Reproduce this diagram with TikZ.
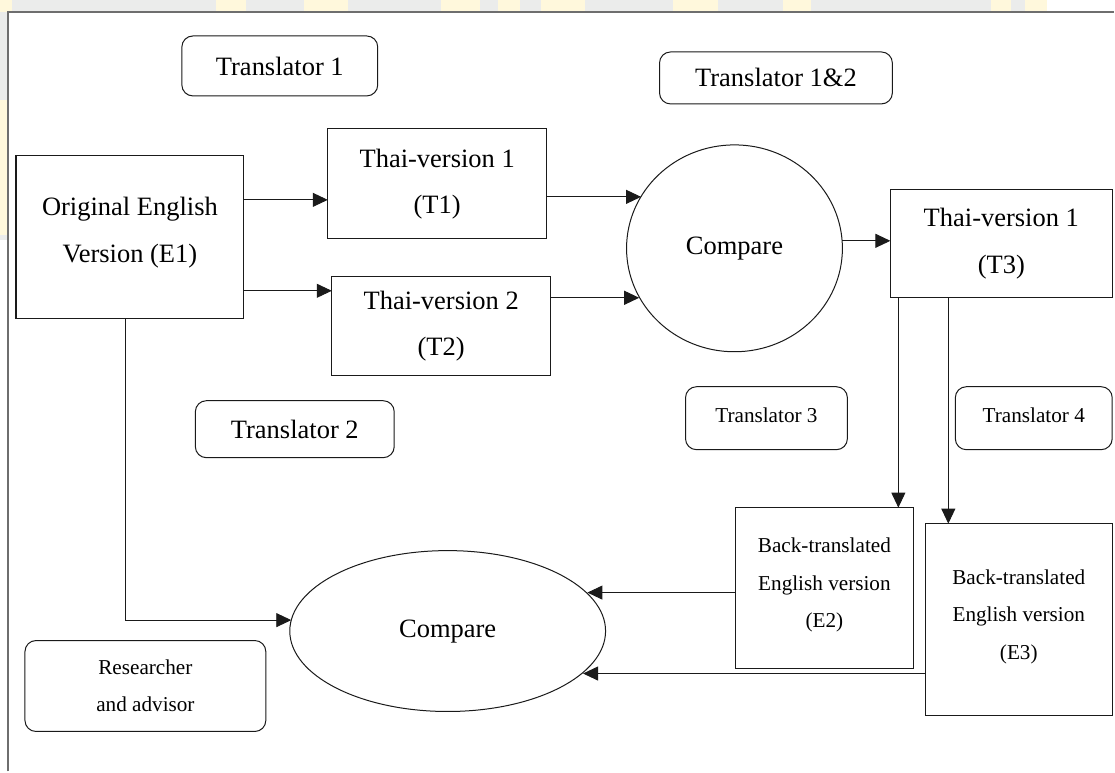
\documentclass[tikz,border=0pt]{standalone}
\usepackage{fontspec}
\setmainfont{Liberation Serif}
\usetikzlibrary{arrows.meta,shapes.geometric}
\definecolor{bandgray}{HTML}{EBECEB}
\definecolor{wmyellow}{HTML}{FFF8DC}
\definecolor{framegray}{HTML}{6E6E6E}
\definecolor{ink}{HTML}{1A1A1A}
\begin{document}
\begin{tikzpicture}[x=1pt,y=-1pt,
  bigtext/.style={font=\fontsize{26.5}{46.5}\selectfont},
  smalltext/.style={font=\fontsize{21.2}{37.5}\selectfont},
  sqbox/.style={draw=ink,line width=1.1pt,rectangle,inner sep=0pt,outer sep=0pt,align=center},
  rbox/.style={draw=ink,line width=1pt,rectangle,rounded corners=11pt,inner sep=0pt,outer sep=0pt,align=center},
  ebox/.style={draw=ink,line width=1pt,ellipse,inner sep=0pt,outer sep=0pt,align=center},
  arr/.style={draw=ink,line width=0.9pt,-{Triangle[length=15pt,width=14pt]}}]
% background band and frame
\fill[bandgray] (0,0) rectangle (1115,772);
\fill[white] (1048,0) rectangle (1115,12);
\fill[white] (0,240) rectangle (8,772);
\foreach \a/\b in {0/12,216/246,304/348,441/480,498/520,541/585,673/719,784/812,992/1012,1026/1048}
  \fill[wmyellow] (\a,0) rectangle (\b,12);
\fill[wmyellow] (0,100) rectangle (8,235);
\fill[white] (8,12) rectangle (1115,772);
\draw[framegray,line width=1.6pt] (8,772) -- (8,12) -- (1115,12);
\useasboundingbox (0,0) rectangle (1115,772);
% nodes
\node[rbox,bigtext,minimum width=196pt,minimum height=60pt] (tr1) at (280,66) {Translator 1};
\node[rbox,bigtext,minimum width=233pt,minimum height=52pt] (tr12) at (776.5,78) {Translator 1\&2};
\node[sqbox,bigtext,text depth=15pt,minimum width=228pt,minimum height=163pt] (e1) at (130,237.5) {Original English\\Version (E1)};
\node[sqbox,bigtext,minimum width=219pt,minimum height=110pt] (t1) at (437.5,184) {Thai-version 1\\(T1)};
\node[sqbox,bigtext,minimum width=219pt,minimum height=99pt] (t2) at (441.5,326.5) {Thai-version 2\\(T2)};
\node[ebox,bigtext,minimum width=216pt,minimum height=207pt] (cmp1) at (735,248.5) {Compare};
\node[sqbox,bigtext,minimum width=222pt,minimum height=108pt] (t3) at (1002,244) {Thai-version 1\\(T3)};
\node[rbox,bigtext,minimum width=199pt,minimum height=57pt] (tr2) at (295,429.5) {Translator 2};
\node[rbox,smalltext,text depth=7pt,minimum width=162pt,minimum height=63pt] (tr3) at (767,418.5) {Translator 3};
\node[rbox,smalltext,text depth=7pt,minimum width=157pt,minimum height=63pt] (tr4) at (1034.5,418.5) {Translator 4};
\node[sqbox,smalltext,text depth=10.6pt,minimum width=178pt,minimum height=161pt] (e2) at (825,588.5) {Back-translated\\English version\\(E2)};
\node[sqbox,smalltext,text depth=10.6pt,minimum width=187pt,minimum height=192pt] (e3) at (1019.5,620) {Back-translated\\English version\\(E3)};
\node[ebox,bigtext,minimum width=316pt,minimum height=161pt] (cmp2) at (448,631.5) {Compare};
\node[rbox,smalltext,minimum width=241pt,minimum height=91pt] (res) at (145.5,686.5) {Researcher\\and advisor};
% connectors
\draw[arr] (e1.east |- 0,200) -- (t1.west |- 0,200);
\draw[arr] (e1.east |- 0,291) -- (t2.west |- 0,291);
\draw[arr] (t1.east |- 0,197) -- (cmp1.151 |- 0,197);
\draw[arr] (t2.east |- 0,298) -- (cmp1.207 |- 0,298);
\draw[arr] (cmp1.east |- 0,241) -- (t3.west |- 0,241);
\draw[arr] (t3.south -| 899,0) -- (e2.north -| 899,0);
\draw[arr] (t3.south -| 949,0) -- (e3.north -| 949,0);
\draw[arr] (e2.west |- 0,593) -- (cmp2.15.5 |- 0,593);
\draw[arr] (e3.west |- 0,674) -- (cmp2.-17.6 |- 0,674);
\draw[arr] (e1.south -| 126,0) |- (cmp2.176);
\end{tikzpicture}
\end{document}
